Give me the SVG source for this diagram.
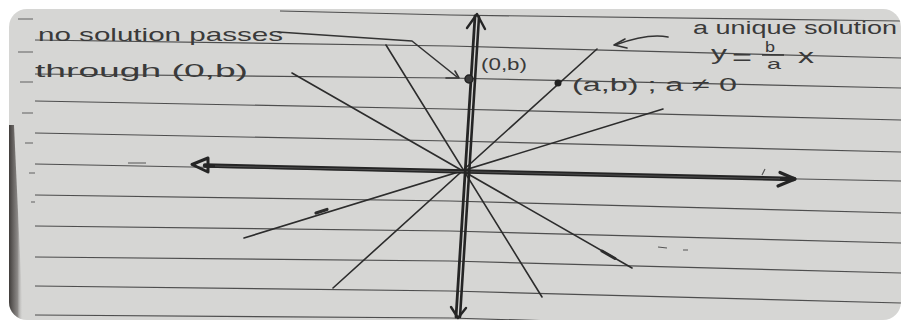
<svg xmlns="http://www.w3.org/2000/svg" width="901" height="320" viewBox="0 0 901 320">
  <style>
    .rule { fill: none; stroke: #4e4e4e; stroke-width: 1.2; }
    .tick { stroke: #606060; stroke-width: 1.2; }
    .ray { fill: none; stroke: #2c2c2c; stroke-width: 1.6; stroke-linecap: round; }
    .axis { fill: none; stroke: #252525; stroke-linecap: round; stroke-linejoin: round; }
    .ink { fill: none; stroke: #333; stroke-width: 1.6; stroke-linecap: round; stroke-linejoin: round; }
    .hand { font-family: "Liberation Sans", "DejaVu Sans", sans-serif; fill: #3a3a3a; }
  </style>
  <defs>
    <clipPath id="paperClip">
      <rect x="9" y="9" width="892" height="311" rx="18" ry="18"/>
    </clipPath>
    <linearGradient id="edge" x1="0" y1="0" x2="1" y2="0">
      <stop offset="0" stop-color="#2f2b29" stop-opacity="0.9"/>
      <stop offset="0.6" stop-color="#4a4543" stop-opacity="0.55"/>
      <stop offset="1" stop-color="#d6d6d4" stop-opacity="0"/>
    </linearGradient>
  </defs>

  <rect x="0" y="0" width="901" height="320" fill="#ffffff"/>

  <g id="paper" clip-path="url(#paperClip)">
    <rect x="9" y="9" width="892" height="311" fill="#d6d6d4"/>
    <path d="M9,125 L14,125 L23,320 L9,320 Z" fill="url(#edge)"/>
    <!-- ruled lines -->
    <polyline class="rule" points="280,11 450,15 901,21"/>
    <polyline class="rule" points="35,40 450,46 901,58"/>
    <polyline class="rule" points="35,74 450,78 901,88"/>
    <polyline class="rule" points="35,101 450,109 901,120"/>
    <polyline class="rule" points="35,133 450,141 901,152"/>
    <polyline class="rule" points="35,164 450,172 901,181"/>
    <polyline class="rule" points="35,195 450,201 901,213"/>
    <polyline class="rule" points="35,226 450,231 901,243"/>
    <polyline class="rule" points="35,257 450,261 901,273"/>
    <polyline class="rule" points="35,286 450,291 901,303"/>
    <polyline class="rule" points="35,315 450,318 901,331"/>
    <!-- margin ticks -->
    <line class="tick" x1="18" y1="19" x2="33" y2="19"/>
    <line class="tick" x1="18" y1="52" x2="33" y2="52"/>
    <line class="tick" x1="20" y1="82" x2="33" y2="82"/>
    <line class="tick" x1="22" y1="113" x2="33" y2="113"/>
    <line class="tick" x1="25" y1="143" x2="33" y2="143"/>
    <line class="tick" x1="29" y1="173" x2="35" y2="173"/>
    <line class="tick" x1="31" y1="202" x2="35" y2="202"/>
    <!-- stray pencil marks -->
    <path d="M128,163 L146,163 M658,247 L667,248 M683,250 L688,250 M762,175 L765,169" stroke="#555" stroke-width="1.2" fill="none"/>
  </g>

  <g id="connectors">
    <!-- lines through the origin -->
    <line class="ray" x1="386" y1="45" x2="542" y2="297"/>
    <line class="ray" x1="292" y1="73" x2="632" y2="268"/>
    <line class="ray" x1="597" y1="49" x2="333" y2="288"/>
    <line class="ray" x1="663" y1="109" x2="244" y2="238"/>
    <!-- small marks on lines -->
    <line x1="316" y1="213" x2="327" y2="209.5" stroke="#2c2c2c" stroke-width="3.2" stroke-linecap="round"/>
    <line x1="602" y1="251" x2="615" y2="258.5" stroke="#2c2c2c" stroke-width="3" stroke-linecap="round"/>

    <!-- x axis -->
    <line class="axis" x1="205" y1="165.5" x2="794" y2="179" stroke-width="4.4"/>
    <line x1="215" y1="166" x2="780" y2="178.8" stroke="#5a5a5a" stroke-width="0.8"/>
    <path class="axis" d="M192,164.5 L208,158 L208,172 Z" stroke-width="3" fill="#3a3a3a"/>
    <path class="axis" d="M780,172.5 L795,179 L778,186" stroke-width="3.2"/>

    <!-- y axis (double stroke) -->
    <line class="axis" x1="475" y1="16" x2="456" y2="317" stroke-width="2.8"/>
    <line class="axis" x1="479" y1="17" x2="460" y2="317" stroke-width="2.6"/>
    <path class="axis" d="M467,28 L477,14 L485,29" stroke-width="2.4"/>
    <path class="axis" d="M451,307 L458,318 L466,308" stroke-width="2.4"/>

    <!-- pointer from "no solution passes" to (0,b) -->
    <polyline class="ink" points="278,32 412,41 457,77"/>
    <path class="ink" d="M446,78 L459,78 L455,71"/>

    <!-- curved arrow from "a unique solution" -->
    <path class="ink" d="M668,37 Q648,33 615,45"/>
    <path class="ink" d="M625,39 L614,45 L627,48"/>
  </g>

  <g id="point-0b">
    <circle cx="469" cy="79" r="4" fill="#3a3a3a" stroke="#222" stroke-width="1.5"/>
    <text class="hand" x="481" y="70" font-size="17" textLength="46" lengthAdjust="spacingAndGlyphs">(0,b)</text>
  </g>

  <g id="point-ab">
    <circle cx="558" cy="83" r="3.5" fill="#222"/>
    <text class="hand" x="572" y="91" font-size="18" textLength="165" lengthAdjust="spacingAndGlyphs">(a,b) ; a ≠ 0</text>
  </g>

  <g id="label-no-solution">
    <text class="hand" x="38" y="41" font-size="19" textLength="245" lengthAdjust="spacingAndGlyphs">no solution passes</text>
    <text class="hand" x="35" y="77" font-size="19" textLength="213" lengthAdjust="spacingAndGlyphs">through (0,b)</text>
  </g>

  <g id="label-unique-solution">
    <text class="hand" x="693" y="34" font-size="18" textLength="204" lengthAdjust="spacingAndGlyphs">a unique solution</text>
    <text class="hand" x="711" y="60" font-size="20" textLength="16" lengthAdjust="spacingAndGlyphs">y</text>
    <text class="hand" x="732" y="65" font-size="22" textLength="20" lengthAdjust="spacingAndGlyphs">=</text>
    <text class="hand" x="765" y="52" font-size="14" textLength="10" lengthAdjust="spacingAndGlyphs">b</text>
    <line x1="762" y1="55" x2="784" y2="55" stroke="#333" stroke-width="1.5"/>
    <text class="hand" x="767" y="69" font-size="15" textLength="14" lengthAdjust="spacingAndGlyphs">a</text>
    <text class="hand" x="798" y="63" font-size="20" textLength="16" lengthAdjust="spacingAndGlyphs">x</text>
  </g>
</svg>
